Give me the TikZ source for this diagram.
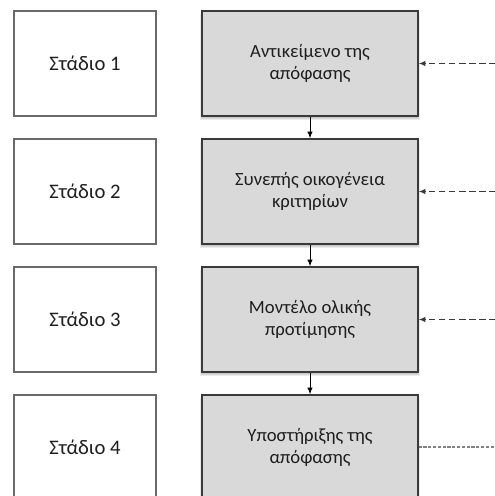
\documentclass[tikz,border=0pt]{standalone}
\usepackage{fontspec}
\setmainfont{Carlito}
\usetikzlibrary{arrows.meta}
\definecolor{boxfill}{HTML}{D9D9D9}
\definecolor{darkline}{HTML}{3A3A3A}
\definecolor{lightline}{HTML}{6A6A6A}
\definecolor{txt}{HTML}{1E1E1E}
\definecolor{dotgray}{HTML}{808080}
\tikzset{
  stagebox/.style={draw=lightline, line width=0.8pt, fill=white, minimum width=106.5pt, minimum height=78.75pt, inner sep=0pt, align=center, text=txt, font=\fontsize{15.5}{18}\selectfont},
  stepbox/.style={draw=darkline, line width=1pt, fill=boxfill, minimum width=162pt, minimum height=78.75pt, inner sep=0pt, align=center, text=txt, font=\fontsize{14}{17}\selectfont},
  flowarr/.style={draw=black, line width=0.7pt, -{Latex[length=5pt,width=4pt]}},
  inarr/.style={draw=darkline, line width=0.8pt, dash pattern=on 5pt off 2.6pt, -{Latex[length=5pt,width=4pt]}},
  dotline/.style={draw=dotgray, line width=1pt, dash pattern=on 2.4pt off 1.2pt},
  softshadow/.style={fill=black, opacity=0.08}
}
\begin{document}
\begin{tikzpicture}[x=0.75pt, y=-0.75pt]
\useasboundingbox (0,0) rectangle (495,496);
\clip (0,0) rectangle (495,496);
% shadows for right boxes
\foreach \cy in {63.5,191.5,319.5,447.5}{
  \foreach \d in {1,2,3}{
    \fill[softshadow] (202-\d+0.5, \cy-52.5+\d) rectangle (418+\d-1, \cy+52.5+\d+1);
  }
}
\node[stagebox] (s1) at (85,63.5) {Στάδιο 1};
\node[stagebox] (s2) at (85,191.5) {Στάδιο 2};
\node[stagebox] (s3) at (85,319.5) {Στάδιο 3};
\node[stagebox] (s4) at (85,447.5) {Στάδιο 4};
\node[stepbox] (r1) at (310,63.5) {Αντικείμενο της\\απόφασης};
\node[stepbox] (r2) at (310,191.5) {Συνεπής οικογένεια\\κριτηρίων};
\node[stepbox] (r3) at (310,319.5) {Μοντέλο ολικής\\προτίμησης};
\node[stepbox] (r4) at (310,447.5) {Υποστήριξης της\\απόφασης};
\draw[flowarr] (r1.south) -- (r2.north);
\draw[flowarr] (r2.south) -- (r3.north);
\draw[flowarr] (r3.south) -- (r4.north);
\coordinate (e1) at (496,63.5);
\coordinate (e2) at (496,191.5);
\coordinate (e3) at (496,319.5);
\coordinate (e4) at (496,447);
\draw[inarr] (e1) -- (r1.east);
\draw[inarr] (e2) -- (r2.east);
\draw[inarr] (e3) -- (r3.east);
\draw[dotline] (r4.east |- e4) -- (e4);
\end{tikzpicture}
\end{document}
